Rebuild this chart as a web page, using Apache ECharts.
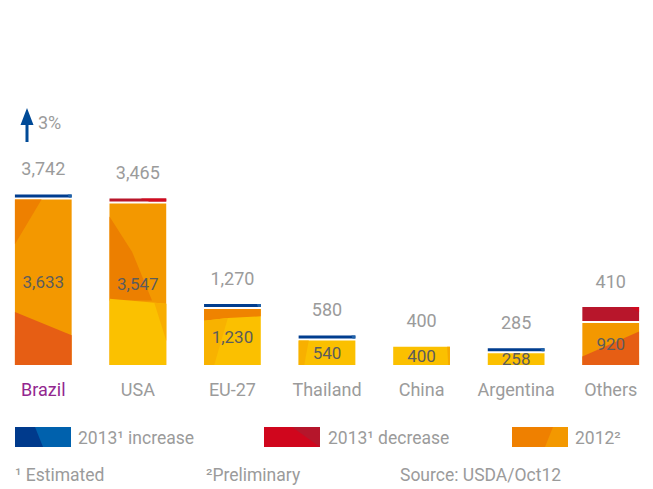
<!DOCTYPE html>
<html>
<head>
<meta charset="utf-8">
<script src="https://cdn.jsdelivr.net/npm/echarts@6/dist/echarts.min.js"></script>
<style>
  html, body { margin: 0; padding: 0; background: #fff; }
  #chart { width: 653px; height: 489px; }
</style>
</head>
<body>
<div id="chart"></div>
<script>
// data
const categories = ['Brazil', 'USA', 'EU-27', 'Thailand', 'China', 'Argentina', 'Others'];
const values2012 = [3633, 3547, 1230, 540, 400, 258, 920];
const values2013 = [3742, 3465, 1270, 580, 400, 285, 410];

const gray = '#9b9b9b';
const font = 'Roboto';

// faceted look of the 2012 bars (relative coords inside each bar)
const barBase = ['#f39800', '#f39800', '#fbc000', '#fbc000', '#fbc000', '#fbc000', '#f39800'];
const facets = [
  [
    { pts: [[0, 0], [0.47, 0], [0, 0.27]], c: '#ee8000' },
    { pts: [[0, 0.68], [1, 0.82], [1, 1], [0, 1]], c: '#e65e14' }
  ],
  [
    { pts: [[0, 0.08], [0.4, 0.3], [0.75, 0.6], [0, 0.6]], c: '#ec7f00' },
    { pts: [[0, 0.59], [1, 0.62], [1, 1], [0, 1]], c: '#fbc100' },
    { pts: [[0.79, 0.615], [1, 0.62], [1, 0.85]], c: '#f8ad00' }
  ],
  [
    { pts: [[0, 0], [1, 0], [1, 0.13], [0.42, 0.16], [0, 0.21]], c: '#ef8300' },
    { pts: [[0, 0.21], [0.42, 0.16], [0.18, 1], [0, 1]], c: '#f8b200' }
  ],
  [
    { pts: [[0, 0], [0.18, 0], [0.1, 1], [0, 1]], c: '#f8b000' }
  ],
  [
    { pts: [[0.95, 0], [1, 0], [1, 1], [0.97, 1]], c: '#f6a800' }
  ],
  [],
  [
    { pts: [[0, 0.8], [1, 0.2], [1, 1], [0, 1]], c: '#e65e14' }
  ]
];

const fmt = (v) => v.toLocaleString('en-US');

function poly(pts, x0, y0, w, h, color) {
  return {
    type: 'polygon',
    shape: { points: pts.map((p) => [x0 + p[0] * w, y0 + p[1] * h]) },
    style: { fill: color }
  };
}

function renderItem(params, api) {
  const i = api.value(0);
  const v12 = api.value(1);
  const v13 = api.value(2);
  const base = api.coord([i, 0]);
  const top = api.coord([i, v12]);
  const bw = api.size([1, 0])[0] * 0.6;
  const x0 = base[0] - bw / 2;
  const h = base[1] - top[1];

  const children = [
    { type: 'rect', shape: { x: x0, y: top[1], width: bw, height: h }, style: { fill: barBase[i] } }
  ];
  facets[i].forEach((f) => children.push(poly(f.pts, x0, top[1], bw, h, f.c)));

  // 2013 change marker above the 2012 bar
  let labelTop = top[1];
  const diff = v13 - v12;
  if (diff !== 0) {
    const diffPx = Math.abs(api.coord([i, Math.abs(diff)])[1] - base[1]);
    const thick = Math.max(3, Math.round(diffPx * 0.6));
    const mBottom = top[1] - 2;
    const mTop = mBottom - thick;
    if (diff > 0) {
      children.push({ type: 'rect', shape: { x: x0, y: mTop, width: bw, height: thick }, style: { fill: '#003d8f' } });
      children.push(poly([[0.93, 0], [1, 0], [1, 1], [0.95, 1]], x0, mTop, bw, thick, '#1f62aa'));
    } else {
      children.push({ type: 'rect', shape: { x: x0, y: mTop, width: bw, height: thick }, style: { fill: '#b8162b' } });
      const piece = thick > 6 ? [[0.85, 0], [1, 0], [1, 0.35]] : [[0.55, 0], [1, 0], [1, 1], [0.7, 1]];
      children.push(poly(piece, x0, mTop, bw, thick, '#d10a1f'));
    }
    labelTop = mTop;
  }

  children.push({
    type: 'text',
    style: {
      text: fmt(v13), x: base[0], y: labelTop - 26,
      align: 'center', verticalAlign: 'middle',
      fill: gray, fontSize: 18, fontFamily: font
    }
  });
  children.push({
    type: 'text',
    style: {
      text: fmt(v12), x: base[0], y: top[1] + h / 2,
      align: 'center', verticalAlign: 'middle',
      fill: '#5c5c5c', fontSize: 17, fontFamily: font
    }
  });

  return { type: 'group', children: children };
}

const pct = Math.round((values2013[0] - values2012[0]) / values2012[0] * 100);

const chart = echarts.init(document.getElementById('chart'), null, { renderer: 'svg' });

const option = {
  backgroundColor: '#fff',
  animation: false,
  grid: { left: -4, right: -5, top: 60, bottom: 124, outerBoundsMode: 'none' },
  xAxis: {
    type: 'category',
    data: categories,
    axisLine: { show: false },
    axisTick: { show: false },
    axisLabel: {
      interval: 0,
      hideOverlap: false,
      margin: 15,
      fontSize: 18,
      fontFamily: font,
      color: gray,
      formatter: (v, idx) => (idx === 0 ? '{hl|' + v + '}' : v),
      rich: { hl: { color: '#93278f', fontSize: 18, fontFamily: font } }
    }
  },
  yAxis: { type: 'value', min: 0, max: 6700, show: false, splitLine: { show: false } },
  series: [
    {
      type: 'custom',
      renderItem: renderItem,
      data: categories.map((c, i) => [i, values2012[i], values2013[i]])
    }
  ],
  graphic: [
    // arrow and percentage above Brazil
    {
      type: 'polygon',
      shape: { points: [[27, 108], [33.5, 125], [28.5, 125], [28.5, 142], [25.5, 142], [25.5, 125], [20.5, 125]] },
      style: { fill: '#004a97' }
    },
    {
      type: 'text', x: 38, y: 122,
      style: { text: pct + '%', fill: gray, fontSize: 18, fontFamily: font, verticalAlign: 'middle' }
    },
    // legend swatches
    { type: 'polygon', shape: { points: [[15, 427], [71, 427], [71, 447], [15, 447]] }, style: { fill: '#0061ad' } },
    { type: 'polygon', shape: { points: [[15, 427], [35, 427], [43, 447], [15, 447]] }, style: { fill: '#003a8c' } },
    { type: 'text', x: 78, y: 438, style: { text: '2013¹ increase', fill: gray, fontSize: 17.5, fontFamily: font, verticalAlign: 'middle' } },

    { type: 'polygon', shape: { points: [[264, 427], [320, 427], [320, 447], [264, 447]] }, style: { fill: '#b5162b' } },
    { type: 'polygon', shape: { points: [[264, 427], [292, 427], [320, 447], [264, 447]] }, style: { fill: '#d0061d' } },
    { type: 'text', x: 328, y: 438, style: { text: '2013¹ decrease', fill: gray, fontSize: 17.5, fontFamily: font, verticalAlign: 'middle' } },

    { type: 'polygon', shape: { points: [[512, 427], [568, 427], [568, 447], [512, 447]] }, style: { fill: '#f39800' } },
    { type: 'polygon', shape: { points: [[512, 427], [553, 427], [545, 447], [512, 447]] }, style: { fill: '#ef8000' } },
    { type: 'text', x: 575, y: 438, style: { text: '2012²', fill: gray, fontSize: 17.5, fontFamily: font, verticalAlign: 'middle' } },

    // footnotes
    { type: 'text', x: 15, y: 475, style: { text: '¹ Estimated', fill: gray, fontSize: 17.5, fontFamily: font, verticalAlign: 'middle' } },
    { type: 'text', x: 206, y: 475, style: { text: '²Preliminary', fill: gray, fontSize: 17.5, fontFamily: font, verticalAlign: 'middle' } },
    { type: 'text', x: 400, y: 475, style: { text: 'Source: USDA/Oct12', fill: gray, fontSize: 17.5, fontFamily: font, verticalAlign: 'middle' } }
  ]
};

chart.setOption(option);
</script>
</body>
</html>
